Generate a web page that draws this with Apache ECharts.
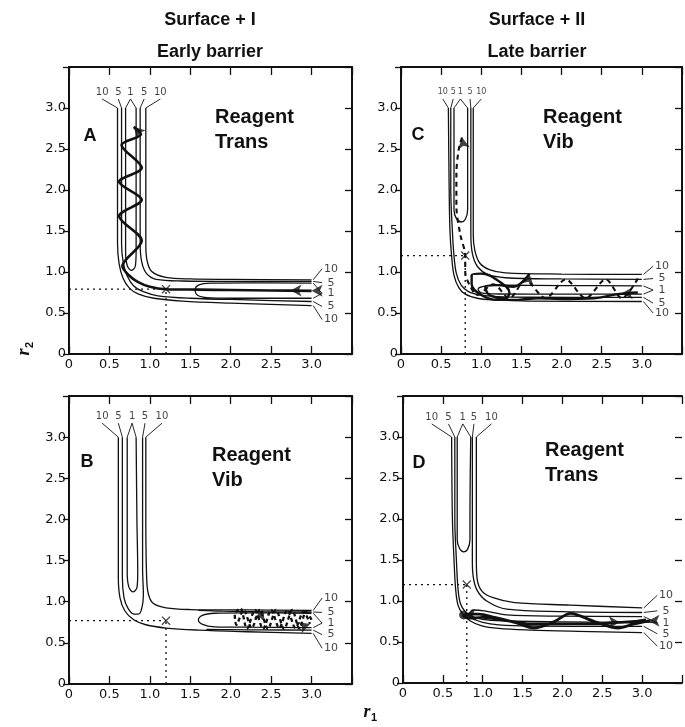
<!DOCTYPE html>
<html>
<head>
<meta charset="utf-8">
<script src="https://cdn.jsdelivr.net/npm/echarts@6/dist/echarts.min.js"></script>
<style>
  html, body { margin: 0; padding: 0; background: #fff; }
  #chart { width: 685px; height: 727px; }
</style>
</head>
<body>
<div id="chart"></div>
<script>
  // axis ticks shared by all four panels (r1 and r2, in angstrom)
  const tickStep = 0.5;
  const tickLabels = ['0', '0.5', '1.0', '1.5', '2.0', '2.5', '3.0', ''];
  const levelNames = ['10', '5', '1', '5', '10'];

  // contour lines as [r1, r2] points
  const contoursA = [
    [[0.6,3.0],[0.6,2.0],[0.6,1.35],[0.62,1.1],[0.67,0.92],[0.75,0.8],[0.86,0.73],[1.05,0.68],[1.4,0.645],[2.0,0.62],[3.0,0.59]],
    [[0.65,3.0],[0.65,2.0],[0.65,1.35],[0.67,1.12],[0.72,0.95],[0.8,0.83],[0.92,0.76],[1.1,0.71],[1.5,0.68],[2.2,0.66],[3.0,0.64]],
    [[0.7,3.0],[0.7,2.0],[0.7,1.25],[0.72,1.08],[0.77,1.02],[0.82,1.07],[0.83,1.25],[0.83,2.0],[0.83,3.0]],
    [[0.88,3.0],[0.88,2.0],[0.88,1.35],[0.9,1.12],[0.96,0.98],[1.08,0.91],[1.4,0.89],[2.0,0.885],[3.0,0.885]],
    [[0.95,3.0],[0.95,2.0],[0.95,1.35],[0.96,1.17],[1.02,1.01],[1.2,0.935],[1.5,0.915],[2.0,0.91],[3.0,0.905]],
    [[3.0,0.865],[2.2,0.868],[1.75,0.865],[1.6,0.84],[1.56,0.78],[1.6,0.71],[1.75,0.685],[2.2,0.68],[3.0,0.68]]
  ];
  const contoursB = [
    [[0.61,3.0],[0.61,2.0],[0.61,1.3],[0.63,1.05],[0.69,0.89],[0.8,0.78],[0.95,0.72],[1.2,0.68],[1.6,0.655],[2.2,0.635],[3.0,0.615]],
    [[0.66,3.0],[0.66,2.0],[0.66,1.3],[0.68,1.05],[0.73,0.92],[0.8,0.85],[0.86,0.85],[0.9,0.92],[0.92,1.08],[0.91,1.4],[0.91,2.0],[0.91,3.0]],
    [[0.72,3.0],[0.72,2.0],[0.72,1.35],[0.74,1.18],[0.79,1.12],[0.84,1.17],[0.85,1.35],[0.84,2.0],[0.83,3.0]],
    [[0.95,3.0],[0.95,2.0],[0.96,1.3],[0.98,1.1],[1.04,0.98],[1.2,0.925],[1.5,0.905],[2.2,0.9],[3.0,0.895]],
    [[3.0,0.86],[2.2,0.865],[1.8,0.86],[1.65,0.835],[1.6,0.78],[1.65,0.725],[1.8,0.695],[2.2,0.69],[3.0,0.685]],
    [[3.0,0.875],[2.4,0.878],[1.9,0.885],[1.6,0.895]],
    [[3.0,0.655],[2.4,0.657],[2.0,0.66],[1.7,0.664]]
  ];
  const contoursC = [
    [[0.59,3.0],[0.6,2.0],[0.61,1.5],[0.63,1.2],[0.66,0.96],[0.72,0.81],[0.8,0.73],[0.95,0.68],[1.15,0.66],[1.6,0.645],[3.0,0.64]],
    [[0.62,3.0],[0.62,2.0],[0.64,1.5],[0.66,1.2],[0.69,0.98],[0.75,0.84],[0.84,0.76],[0.98,0.72],[1.2,0.7],[1.6,0.692],[3.0,0.69]],
    [[0.66,3.0],[0.66,2.0],[0.66,1.76],[0.69,1.65],[0.75,1.61],[0.8,1.64],[0.83,1.76],[0.83,2.0],[0.83,3.0]],
    [[0.87,3.0],[0.87,2.0],[0.87,1.45],[0.89,1.22],[0.95,1.07],[1.08,0.97],[1.3,0.93],[2.0,0.915],[3.0,0.91]],
    [[0.9,3.0],[0.9,2.0],[0.9,1.45],[0.92,1.26],[0.98,1.11],[1.1,1.03],[1.3,0.99],[2.0,0.975],[3.0,0.97]],
    [[3.0,0.83],[2.0,0.835],[1.3,0.84],[1.06,0.83],[0.96,0.79],[1.0,0.745],[1.2,0.732],[2.0,0.73],[3.0,0.73]]
  ];
  const contoursD = [
    [[0.61,3.0],[0.62,2.0],[0.64,1.5],[0.66,1.15],[0.69,0.95],[0.75,0.84],[0.84,0.76],[0.98,0.7],[1.2,0.665],[1.6,0.645],[2.2,0.63],[3.0,0.615]],
    [[0.65,3.0],[0.65,2.0],[0.67,1.5],[0.69,1.15],[0.72,0.97],[0.78,0.87],[0.87,0.79],[1.0,0.74],[1.2,0.71],[1.6,0.695],[3.0,0.69]],
    [[0.68,3.0],[0.68,2.0],[0.68,1.75],[0.71,1.64],[0.76,1.6],[0.81,1.63],[0.84,1.75],[0.84,2.0],[0.85,3.0]],
    [[0.87,3.0],[0.87,2.0],[0.87,1.5],[0.88,1.3],[0.93,1.13],[1.05,1.0],[1.3,0.9],[2.0,0.87],[3.0,0.86]],
    [[0.92,3.0],[0.92,2.0],[0.92,1.5],[0.93,1.27],[0.99,1.12],[1.13,1.04],[1.4,0.98],[2.1,0.95],[3.0,0.915]],
    [[3.0,0.81],[2.0,0.815],[1.3,0.83],[1.02,0.88],[0.88,0.89],[0.84,0.85],[0.9,0.8],[1.1,0.765],[2.0,0.745],[3.0,0.74]]
  ];

  // contour level labels: top of the exit valley and right end of the entry valley
  const topLabelX = [[0.41,0.61,0.76,0.93,1.13],[0.41,0.61,0.78,0.94,1.15],[0.52,0.65,0.74,0.86,1.0],[0.36,0.57,0.75,0.89,1.11]];
  const topLabelY = [3.19, 3.25, 3.19, 3.24];
  const topTargets = [
    [[0.6],[0.65],[0.7,0.83],[0.88],[0.95]],
    [[0.61],[0.66],[0.72,0.83],[0.91],[0.95]],
    [[0.59],[0.62],[0.66,0.83],[0.87],[0.9]],
    [[0.61],[0.65],[0.68,0.85],[0.87],[0.92]]
  ];
  const rightLabelX = [3.24, 3.24, 3.25, 3.3];
  const rightLabelY = [[1.04,0.87,0.74,0.58,0.42],[1.045,0.87,0.74,0.6,0.435],[1.07,0.92,0.78,0.62,0.5],[1.07,0.88,0.735,0.6,0.45]];
  const rightTargets = [
    [[0.905],[0.885],[0.865,0.68],[0.64],[0.59]],
    [[0.895],[0.875],[0.86,0.685],[0.655],[0.615]],
    [[0.97],[0.91],[0.83,0.73],[0.69],[0.64]],
    [[0.915],[0.86],[0.81,0.74],[0.69],[0.615]]
  ];

  // saddle points (marked x) per panel
  const saddles = [[1.2, 0.79], [1.2, 0.77], [0.8, 1.2], [0.8, 1.2]];

  // trajectories
  const trajA = [[3.0,0.77],[2.5,0.775],[2.0,0.78],[1.6,0.785],[1.2,0.79],[1.0,0.82],[0.85,0.88],[0.74,0.96],[0.66,1.07],
    [0.9,1.38],[0.62,1.68],[0.9,1.88],[0.62,2.1],[0.9,2.27],[0.65,2.55],[0.89,2.68],[0.8,2.77]];
  const trajB = [[3.0,0.78],[2.93,0.88],[2.85,0.67],[2.76,0.9],[2.66,0.67],[2.56,0.9],[2.46,0.67],[2.36,0.9],[2.26,0.68],
    [2.16,0.9],[2.07,0.72],[2.05,0.85],[2.12,0.92],[2.2,0.67],[2.3,0.9],[2.4,0.67],[2.5,0.9],[2.6,0.68],[2.7,0.9],
    [2.8,0.68],[2.9,0.88],[2.98,0.73]];
  const trajCdash = [[2.95,0.92],[2.75,0.68],[2.55,0.91],[2.3,0.68],[2.05,0.91],[1.8,0.68],[1.55,0.9],[1.35,0.68],
    [1.15,0.85],[0.95,0.72],[0.85,0.85],[0.8,1.0],[0.8,1.2],[0.74,1.45],[0.69,1.8],[0.69,2.2],[0.72,2.5],[0.76,2.64]];
  const trajCsolid = [[2.95,0.75],[2.7,0.73],[2.4,0.68],[2.0,0.67],[1.7,0.68],[1.45,0.66],[1.2,0.66],[1.0,0.72],[0.88,0.85],
    [0.88,0.96],[1.0,0.98],[1.2,0.9],[1.35,0.75],[1.3,0.68],[1.1,0.72],[1.05,0.82],[1.2,0.84],[1.4,0.82],[1.6,0.98]];
  const trajD = [[3.1,0.76],[2.9,0.72],[2.7,0.67],[2.4,0.75],[2.1,0.85],[1.9,0.75],[1.65,0.67],[1.4,0.74],[1.15,0.8],
    [0.95,0.84],[0.8,0.84],[0.76,0.82],[0.82,0.79],[1.0,0.8],[1.3,0.76],[1.6,0.72],[2.0,0.72],[2.4,0.72],[2.7,0.74],
    [2.9,0.75],[3.05,0.77]];

  // arrowheads: [r1, r2, direction in degrees, 0 = up, 90 = left]
  const arrowsA = [[2.74,0.775,90],[3.0,0.77,90],[0.8,2.77,45]];
  const arrowsB = [[2.98,0.73,-70],[2.4,0.9,-20]];
  const arrowsC = [[0.76,2.64,10],[1.6,0.98,-10],[2.75,0.74,90]];
  const arrowsD = [[3.08,0.76,90],[0.77,0.83,90],[2.72,0.74,-90]];

  const grids = [
    {left: 69, top: 67, width: 283, height: 287},
    {left: 69, top: 396, width: 283, height: 288},
    {left: 401, top: 67, width: 282, height: 287},
    {left: 403, top: 396, width: 280, height: 287}
  ];
  const topLabelFont = [10, 10, 8, 10];

  const ink = '#111';
  const labelFmt = v => tickLabels[Math.round(v / tickStep)] || '';

  let xAxes = [], yAxes = [];
  grids.forEach((g, i) => {
    const common = {type: 'value', gridIndex: i, min: 0, max: 3.5, interval: tickStep,
      splitLine: {show: false},
      axisLine: {show: true, onZero: false, lineStyle: {color: ink, width: 2}}};
    xAxes.push(Object.assign({}, common, {position: 'bottom',
      axisTick: {inside: true, length: 8, lineStyle: {color: ink, width: 1.3}},
      axisLabel: {formatter: labelFmt, color: ink, fontSize: 13, margin: 4, fontFamily: 'DejaVu Sans'}}));
    xAxes.push(Object.assign({}, common, {position: 'top',
      axisTick: {inside: true, length: 8, lineStyle: {color: ink, width: 1.3}},
      axisLabel: {show: false}}));
    yAxes.push(Object.assign({}, common, {position: 'left',
      axisTick: {inside: false, length: 6, lineStyle: {color: ink, width: 1.3}},
      axisLabel: {formatter: labelFmt, color: ink, fontSize: 13, margin: 3, fontFamily: 'DejaVu Sans'}}));
    yAxes.push(Object.assign({}, common, {position: 'right',
      axisLine: {show: i !== 3, onZero: false, lineStyle: {color: ink, width: 2}},
      axisTick: {inside: true, length: 7, lineStyle: {color: ink, width: 1.3}},
      axisLabel: {show: false}}));
  });

  function line(panel, data, style, smooth) {
    return {type: 'line', xAxisIndex: 2 * panel, yAxisIndex: 2 * panel, data: data,
      symbol: 'none', smooth: smooth === undefined ? 0.35 : smooth, silent: true, z: 3,
      lineStyle: Object.assign({color: ink, width: 1.2}, style)};
  }
  function labelSeries(panel, data, size) {
    return {type: 'scatter', xAxisIndex: 2 * panel, yAxisIndex: 2 * panel, data: data, symbolSize: 1, silent: true,
      itemStyle: {color: 'rgba(0,0,0,0)'}, z: 5,
      label: {show: true, position: 'inside', formatter: q => q.value[2], color: ink, fontSize: size,
        fontFamily: 'DejaVu Sans'}};
  }

  const series = [];
  [contoursA, contoursB, contoursC, contoursD].forEach((set, p) => {
    set.forEach(c => series.push(line(p, c, {width: 1.3})));
  });

  // level labels with their leader strokes
  for (let p = 0; p < 4; p++) {
    const tops = [], rights = [];
    for (let k = 0; k < 5; k++) {
      const tx = topLabelX[p][k], ty = topLabelY[p];
      tops.push([tx, ty, levelNames[k]]);
      const tt = topTargets[p][k];
      const tip = [tx, ty - 0.08];
      series.push(line(p, tt.length === 2 ? [[tt[0], 3.0], tip, [tt[1], 3.0]] : [tip, [tt[0], 3.0]], {width: 0.9}, false));
      const rx = rightLabelX[p], ry = rightLabelY[p][k];
      rights.push([rx, ry, levelNames[k]]);
      const rt = rightTargets[p][k];
      const rtip = [rx - 0.11, ry];
      series.push(line(p, rt.length === 2 ? [[3.02, rt[0]], rtip, [3.02, rt[1]]] : [rtip, [3.02, rt[0]]], {width: 0.9}, false));
    }
    series.push(labelSeries(p, tops, topLabelFont[p]));
    series.push(labelSeries(p, rights, 11));
  }

  // saddle guides (dotted) and x marks
  saddles.forEach((s, p) => {
    series.push(line(p, [[0, s[1]], s], {type: [2, 4], width: 1.3}, false));
    series.push(line(p, [[s[0], 0], s], {type: [2, 4], width: 1.3}, false));
    series.push({type: 'scatter', xAxisIndex: 2 * p, yAxisIndex: 2 * p, data: [s], silent: true, z: 6,
      symbol: 'path://M0,1L1,0L5,4L9,0L10,1L6,5L10,9L9,10L5,6L1,10L0,9L4,5Z', symbolSize: 9,
      itemStyle: {color: ink}});
  });

  // trajectories
  series.push(line(0, trajA, {width: 2.6}, 0.3));
  series.push(line(1, trajB, {width: 2.3, type: [4, 3]}, 0.3));
  series.push(line(2, trajCdash, {width: 2.1, type: [5, 4]}, 0.3));
  series.push(line(2, trajCsolid, {width: 2.4}, 0.4));
  series.push(line(3, trajD, {width: 2.8}, 0.3));
  [arrowsA, arrowsB, arrowsC, arrowsD].forEach((arr, p) => {
    series.push({type: 'scatter', xAxisIndex: 2 * p, yAxisIndex: 2 * p, data: arr, silent: true, z: 7,
      symbol: 'arrow', symbolSize: [9, 11], symbolRotate: v => v[2], itemStyle: {color: ink}});
  });
  series.push({type: 'scatter', xAxisIndex: 6, yAxisIndex: 6, data: [[0.76, 0.83]], silent: true, z: 7,
    symbolSize: 9, itemStyle: {color: ink}});

  function txt(x, y, s, font, align) {
    return {type: 'text', x: x, y: y, silent: true, z: 20,
      style: {text: s, font: font, fill: ink, align: align || 'center', verticalAlign: 'middle',
        textAlign: align || 'center', textVerticalAlign: 'middle'}};
  }
  const head = 'bold 18px "Liberation Sans", Arial, sans-serif';
  const tag = 'bold 20px "Liberation Sans", Arial, sans-serif';
  const letter = 'bold 18px "Liberation Sans", Arial, sans-serif';
  const graphic = [
    txt(210, 20, 'Surface + I', head), txt(210, 52, 'Early barrier', head),
    txt(537, 20, 'Surface + II', head), txt(537, 52, 'Late barrier', head),
    txt(90, 136, 'A', letter), txt(87, 462, 'B', letter), txt(418, 135, 'C', letter), txt(419, 463, 'D', letter),
    txt(215, 117, 'Reagent', tag, 'left'), txt(215, 142, 'Trans', tag, 'left'),
    txt(212, 455, 'Reagent', tag, 'left'), txt(212, 480, 'Vib', tag, 'left'),
    txt(543, 117, 'Reagent', tag, 'left'), txt(543, 142, 'Vib', tag, 'left'),
    txt(545, 450, 'Reagent', tag, 'left'), txt(545, 475, 'Trans', tag, 'left'),
    txt(367, 712, 'r', 'italic bold 18px "Liberation Serif", serif'),
    txt(374, 718, '1', 'bold 11px "Liberation Sans", sans-serif'),
    {type: 'group', x: 24, y: 352, rotation: Math.PI / 2, children: [
      txt(0, 0, 'r', 'italic bold 18px "Liberation Serif", serif'),
      txt(7, 6, '2', 'bold 11px "Liberation Sans", sans-serif')
    ]}
  ];

  const chart = echarts.init(document.getElementById('chart'), null, {renderer: 'canvas'});
  chart.setOption({
    animation: false,
    backgroundColor: '#fff',
    grid: grids,
    xAxis: xAxes,
    yAxis: yAxes,
    series: series,
    graphic: graphic
  });
</script>
</body>
</html>
